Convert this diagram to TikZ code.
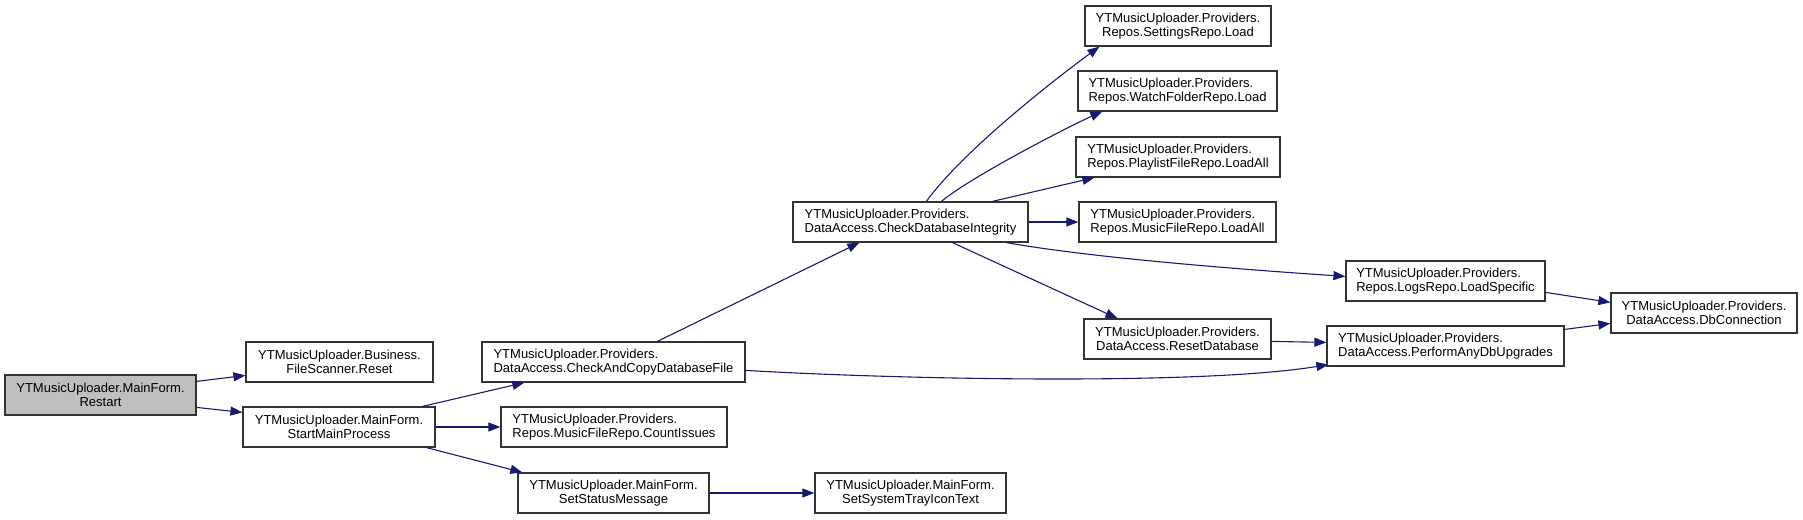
\documentclass[tikz,border=0pt]{standalone}
\usepackage{fontspec}
\setmainfont{Liberation Sans}
\usetikzlibrary{arrows.meta}
\definecolor{edgec}{HTML}{191970}
\definecolor{boxc}{HTML}{333333}
\definecolor{rootfill}{HTML}{BFBFBF}
\begin{document}
\begin{tikzpicture}[x=1pt,y=-1pt,
  box/.style={draw=boxc, line width=1.2pt, fill=white, inner sep=0pt, minimum height=40pt,
    font=\fontsize{13}{14.5}\selectfont, text=black},
  lbox/.style={box, align=left},
  cbox/.style={box, align=center},
  edge/.style={draw=edgec, line width=1.1pt, -{Triangle[length=12pt,width=9pt]}}]
\useasboundingbox (0,0) rectangle (1803,519);
% nodes
\node[cbox, fill=rootfill, minimum width=191pt] (restart) at (100.5,395) {YTMusicUploader.MainForm.\\Restart};
\node[cbox, minimum width=187pt] (reset) at (339.5,362) {YTMusicUploader.Business.\\FileScanner.Reset};
\node[cbox, minimum width=192pt] (smp) at (339,427) {YTMusicUploader.MainForm.\\StartMainProcess};
\node[lbox, minimum width=263pt] (cacdf) at (613.5,362) {YTMusicUploader.Providers.\\DataAccess.CheckAndCopyDatabaseFile};
\node[lbox, minimum width=226pt] (count) at (614,427) {YTMusicUploader.Providers.\\Repos.MusicFileRepo.CountIssues};
\node[cbox, minimum width=191pt] (ssm) at (613.5,493) {YTMusicUploader.MainForm.\\SetStatusMessage};
\node[cbox, minimum width=191pt] (tray) at (910.5,493) {YTMusicUploader.MainForm.\\SetSystemTrayIconText};
\node[lbox, minimum width=235pt] (cdi) at (910.5,222) {YTMusicUploader.Providers.\\DataAccess.CheckDatabaseIntegrity};
\node[cbox, minimum width=186pt] (settings) at (1178,26) {YTMusicUploader.Providers.\\Repos.SettingsRepo.Load};
\node[lbox, minimum width=199pt] (watch) at (1177.5,91) {YTMusicUploader.Providers.\\Repos.WatchFolderRepo.Load};
\node[lbox, minimum width=204pt] (playlist) at (1178,157) {YTMusicUploader.Providers.\\Repos.PlaylistFileRepo.LoadAll};
\node[lbox, minimum width=197pt] (musicall) at (1177.5,222) {YTMusicUploader.Providers.\\Repos.MusicFileRepo.LoadAll};
\node[cbox, minimum width=187pt] (resetdb) at (1177.5,339) {YTMusicUploader.Providers.\\DataAccess.ResetDatabase};
\node[lbox, minimum width=199pt] (logs) at (1445.5,281) {YTMusicUploader.Providers.\\Repos.LogsRepo.LoadSpecific};
\node[lbox, minimum width=237pt] (perform) at (1445.5,346) {YTMusicUploader.Providers.\\DataAccess.PerformAnyDbUpgrades};
\node[cbox, minimum width=186pt] (dbconn) at (1704,313) {YTMusicUploader.Providers.\\DataAccess.DbConnection};
% edges
\draw[edge] ([yshift=-7pt]restart.north east) -- ([yshift=-34pt]reset.north west);
\draw[edge] ([yshift=-33pt]restart.north east) -- ([yshift=-6pt]smp.north west);
\draw[edge] ([xshift=180pt]smp.north west) -- ([xshift=43pt]cacdf.south west);
\draw[edge] (smp.east) -- (count.west);
\draw[edge] ([xshift=184pt]smp.south west) -- ([xshift=5pt]ssm.north west);
\draw[edge] (ssm.east) -- (tray.west);
\draw[edge] ([xshift=176pt]cacdf.north west) -- ([xshift=67pt]cdi.south west);
\draw[edge] ([yshift=-29pt]cacdf.north east) .. controls +(155,9) and +(-129,21) .. ([xshift=2pt,yshift=2pt]perform.south west);
\draw[edge] ([xshift=134pt]cdi.north west) .. controls +(36,-50) and +(-45,33) .. ([xshift=15pt]settings.south west);
\draw[edge] ([xshift=149pt]cdi.north west) .. controls +(30,-25) and +(-30,13) .. ([xshift=25pt]watch.south west);
\draw[edge] ([xshift=200pt]cdi.north west) -- ([xshift=19pt]playlist.south west);
\draw[edge] (cdi.east) -- (musicall.west);
\draw[edge] ([xshift=214pt]cdi.south west) .. controls +(90,16) and +(-90,-6) .. ([yshift=-16pt]logs.north west);
\draw[edge] ([xshift=160pt]cdi.south west) -- ([xshift=34pt]resetdb.north west);
\draw[edge] ([yshift=-23pt]resetdb.north east) -- ([yshift=-17pt]perform.north west);
\draw[edge] ([yshift=-32pt]logs.north east) -- ([yshift=-10pt]dbconn.north west);
\draw[edge] ([yshift=-4pt]perform.north east) -- ([yshift=-31pt]dbconn.north west);
\end{tikzpicture}
\end{document}
